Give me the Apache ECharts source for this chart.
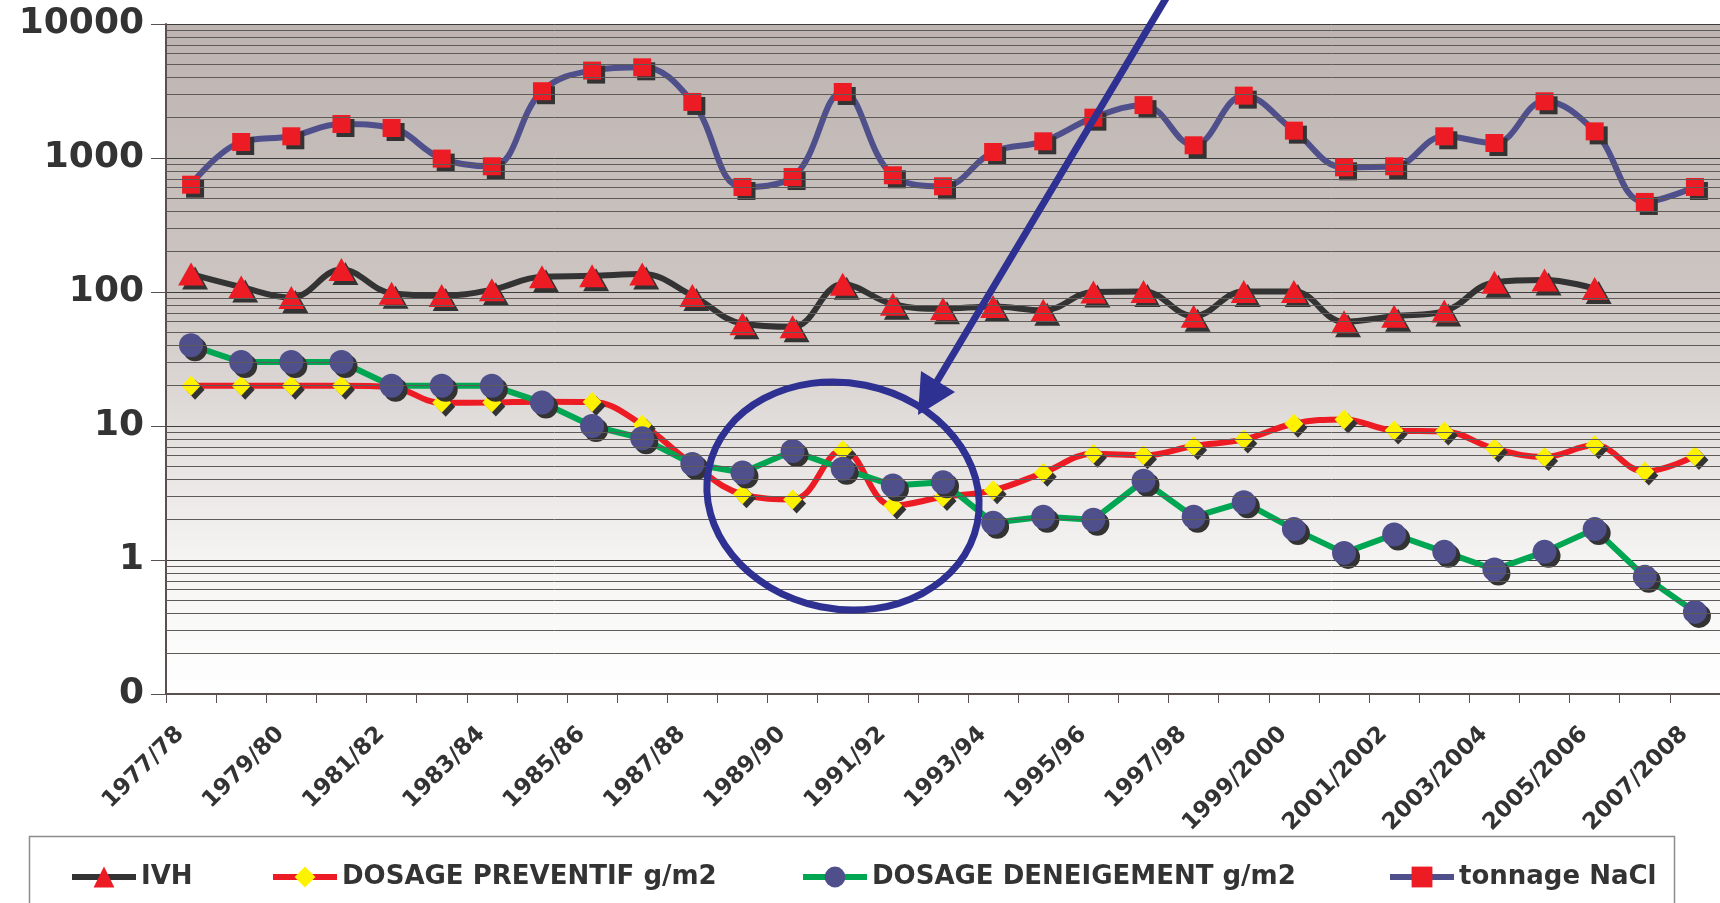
<!DOCTYPE html>
<html>
<head>
<meta charset="utf-8">
<script src="https://cdn.jsdelivr.net/npm/echarts@6/dist/echarts.min.js"></script>
<style>
html,body{margin:0;padding:0;background:#fff;}
#chart{width:1720px;height:903px;}
</style>
</head>
<body>
<div id="chart"></div>
<script>
const categories = ['1977/78','1978/79','1979/80','1980/81','1981/82','1982/83','1983/84','1984/85','1985/86','1986/87','1987/88','1988/89','1989/90','1990/91','1991/92','1992/93','1993/94','1994/95','1995/96','1996/97','1997/98','1998/99','1999/2000','2000/2001','2001/2002','2002/2003','2003/2004','2004/2005','2005/2006','2006/2007','2007/2008'];
const ivh = [136,109,91,147,98,94,104,130,132,136,94,58,55,114,81,75,78,73,100,101,66,101,101,60,66,72,118,123,106,null,null];
const preventif = [20,20,20,20,19.5,14.9,15,15.2,15.1,10.2,5.2,3.09,2.83,6.58,2.55,2.95,3.31,4.48,6.2,6.04,7.1,7.94,10.4,11.2,9.27,9.11,6.78,5.87,7.17,4.58,5.97];
const deneigement = [40,30,30,30,20,20,20,15,10,8.1,5.2,4.5,6.5,4.8,3.6,3.8,1.9,2.1,2.0,3.9,2.1,2.7,1.7,1.13,1.55,1.15,0.85,1.15,1.7,0.75,0.41];
const tonnage = [632,1316,1452,1794,1675,990,867,3150,4490,4750,2620,608,721,3110,743,615,1109,1332,2000,2480,1244,2920,1600,852,867,1452,1294,2650,1580,470,608];
const seriesNames = ['IVH','DOSAGE PREVENTIF g/m2','DOSAGE DENEIGEMENT g/m2','tonnage NaCl'];
const yMin = 0.1, yMax = 10000;
// minor log gridlines (2..9 within each decade)
const minorGrid = [];
for (let d = yMin; d < yMax; d *= 10) {
  for (let k = 2; k <= 9; k++) minorGrid.push(+(d * k).toPrecision(3));
}

const FONT = 'DejaVu Sans';
const shadow = {shadowColor:'#333333', shadowOffsetX:4, shadowOffsetY:4, shadowBlur:0};

const chart = echarts.init(document.getElementById('chart'), null, {renderer:'canvas'});

function legendAt(name, left) {
  return {
    data:[name], left:left, top:859, orient:'horizontal',
    itemWidth:64, itemHeight:26, z:10,
    textStyle:{fontFamily:FONT, fontSize:26, fontWeight:'bold', color:'#333333'},
    lineStyle:{width:6},
    itemStyle:{shadowBlur:0, shadowOffsetX:0, shadowOffsetY:0, shadowColor:'rgba(0,0,0,0)'}
  };
}

const option = {
  backgroundColor:'#ffffff',
  animation:false,
  grid:{
    left:166, top:24, width:1563, height:670,
    show:true, borderWidth:0,
    backgroundColor:{type:'linear', x:0, y:0, x2:0, y2:1, colorStops:[
      {offset:0, color:'#bdb4b1'},
      {offset:0.4, color:'#ccc5c2'},
      {offset:0.6, color:'#e2dedc'},
      {offset:0.8, color:'#f5f4f3'},
      {offset:1, color:'#ffffff'}
    ]}
  },
  legend:[
    legendAt(seriesNames[0], 64),
    legendAt(seriesNames[1], 265),
    legendAt(seriesNames[2], 795),
    legendAt(seriesNames[3], 1382)
  ],
  xAxis:{
    type:'category', data:categories, boundaryGap:true,
    axisLine:{show:true, lineStyle:{color:'#5a5050', width:2}},
    axisTick:{show:true, interval:0, length:9, lineStyle:{color:'#5a5050', width:1}},
    axisLabel:{interval:1, rotate:45, margin:26, padding:[0,15,0,0], fontFamily:FONT, fontSize:23, fontWeight:'bold', color:'#333333'},
    splitLine:{show:false}
  },
  yAxis:{
    type:'log', logBase:10, min:yMin, max:yMax,
    axisLine:{show:true, lineStyle:{color:'#5a5050', width:2}},
    axisTick:{show:true, length:15, lineStyle:{color:'#5a5050', width:1}},
    axisLabel:{margin:22, fontFamily:FONT, fontSize:36, fontWeight:'bold', color:'#333333',
      formatter:function(v){ return v < 1 ? '0' : String(Math.round(v)); }},
    splitLine:{show:true, lineStyle:{color:'#3c3c3c', width:1}},
    minorTick:{show:false}, minorSplitLine:{show:false}
  },
  series:[
    {
      name:'_grid', type:'line', data:[], z:1, silent:true, showSymbol:false,
      markLine:{silent:true, symbol:['none','none'], label:{show:false}, animation:false,
        lineStyle:{color:'#5e5a59', width:1, type:'solid'},
        emphasis:{disabled:true},
        data:minorGrid.map(v => ({yAxis:v}))}
    },
    {
      name:seriesNames[0], type:'line', data:ivh, smooth:0.4, connectNulls:false,
      symbol:'triangle', symbolSize:[26,23],
      lineStyle:{color:'#333333', width:6},
      itemStyle:Object.assign({color:'#ed1c24'}, shadow)
    },
    {
      name:seriesNames[1], type:'line', data:preventif, smooth:0.4,
      symbol:'diamond', symbolSize:[19,20],
      lineStyle:{color:'#ed1c24', width:6},
      itemStyle:Object.assign({color:'#fff200'}, shadow)
    },
    {
      name:seriesNames[2], type:'line', data:deneigement, smooth:false,
      symbol:'circle', symbolSize:24,
      lineStyle:{color:'#00a651', width:6},
      itemStyle:Object.assign({color:'#4f4f8c'}, shadow)
    },
    {
      name:seriesNames[3], type:'line', data:tonnage, smooth:0.4,
      symbol:'rect', symbolSize:18,
      lineStyle:{color:'#4f4f8c', width:6},
      itemStyle:Object.assign({color:'#ed1c24'}, shadow)
    }
  ],
  graphic:[
    {type:'rect', z:0, zlevel:0, silent:true,
      shape:{x:29.5, y:836.5, width:1645, height:120},
      style:{fill:'#ffffff', stroke:'#8c8c8c', lineWidth:1.5}},
    {type:'polyline', z:100, silent:true,
      shape:{points:[[1168,-5],[933,388]]},
      style:{stroke:'#2e3192', lineWidth:7, fill:null}},
    {type:'polygon', z:100, silent:true,
      shape:{points:[[918,415],[921,371],[955,392]]},
      style:{fill:'#2e3192'}},
    {type:'ellipse', z:100, silent:true, x:843, y:496, rotation:-0.2,
      shape:{cx:0, cy:0, rx:137, ry:113},
      style:{stroke:'#2e3192', lineWidth:7, fill:null}}
  ]
};
chart.setOption(option);
</script>
</body>
</html>
